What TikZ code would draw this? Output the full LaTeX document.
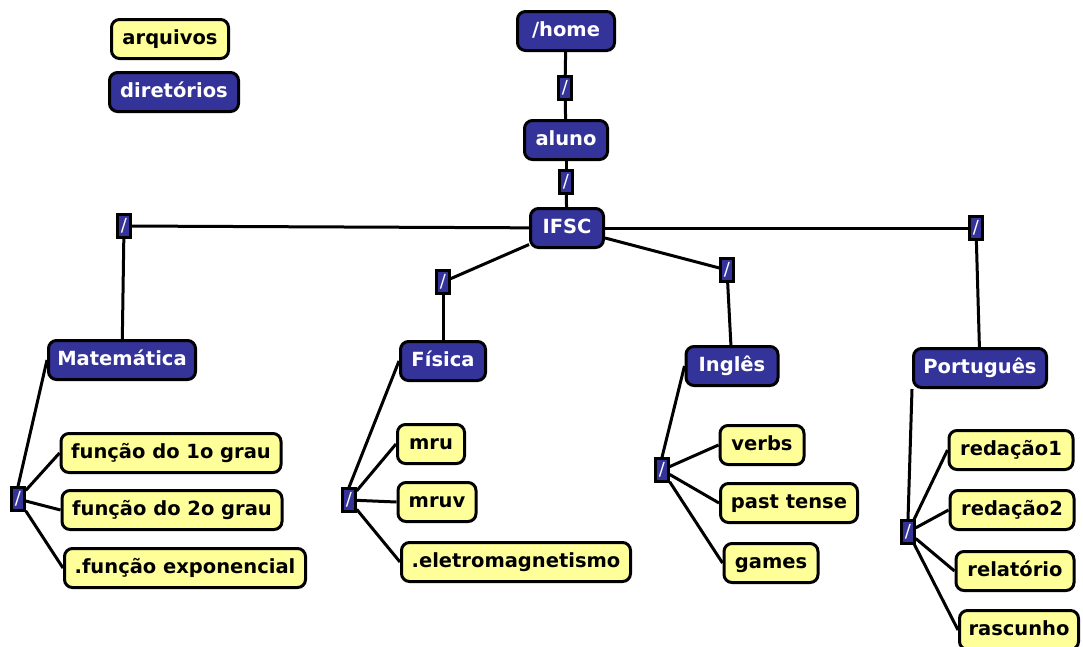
\documentclass[tikz,border=0pt]{standalone}
\usepackage{fontspec}
\setmainfont{DejaVu Sans}
\definecolor{dirblue}{HTML}{333399}
\definecolor{fileyel}{HTML}{FFFF99}
\begin{document}
\begin{tikzpicture}[x=1pt,y=-1pt,
  box/.style={draw=black, line width=3pt, rounded corners=8pt, minimum height=39pt,
    inner xsep=4pt, inner ysep=0pt, text height=14.5pt, text depth=4.5pt,
    font=\fontsize{19.5}{23}\selectfont\bfseries},
  dirbox/.style={box, fill=dirblue, text=white},
  filebox/.style={box, fill=fileyel, text=black},
  sep/.style={draw=black, line width=2.4pt, fill=dirblue, text=white,
    minimum width=13pt, minimum height=23pt, inner sep=0pt,
    font=\fontsize{18}{18}\selectfont},
  link/.style={line width=3pt, draw=black}]
\fill[white] (0,0) rectangle (1083,646);
\useasboundingbox (0,0) rectangle (1083,646);

% legend
\node[filebox, minimum width=117pt] (arq) at (170,39) {arquivos};
\node[dirbox, minimum width=129pt] (dir) at (174,92) {diretórios};

% trunk
\node[dirbox, minimum width=97pt] (home) at (566,31) {/home};
\node[sep] (s1) at (565,88) {/};
\node[dirbox, minimum width=83pt] (aluno) at (566,140) {aluno};
\node[sep] (s2) at (566,182) {/};
\node[dirbox, minimum width=73pt] (ifsc) at (567,228) {IFSC};

% second level separators
\node[sep] (smat) at (124,226) {/};
\node[sep] (sport) at (976,228) {/};
\node[sep] (sfis) at (443,282) {/};
\node[sep] (sing) at (727,270) {/};

% subject directories
\node[dirbox, minimum width=147pt] (mat) at (122,360) {Matemática};
\node[dirbox, minimum width=85pt] (fis) at (443,361) {Física};
\node[dirbox, minimum width=92pt] (ing) at (732,366) {Inglês};
\node[dirbox, minimum width=133pt] (port) at (980,368) {Português};

% third level separators
\node[sep] (smat2) at (18,499) {/};
\node[sep] (sfis2) at (349,500) {/};
\node[sep] (sing2) at (662,470) {/};
\node[sep] (sport2) at (908,532) {/};

% files
\node[filebox, minimum width=220pt] (f1) at (171,453) {função do 1o grau};
\node[filebox, minimum width=220pt] (f2) at (172,510) {função do 2o grau};
\node[filebox, minimum width=241pt] (fexp) at (185,568) {.função exponencial};

\node[filebox, minimum width=67pt] (mru) at (431,444) {mru};
\node[filebox, minimum width=78pt] (mruv) at (437,502) {mruv};
\node[filebox, minimum width=229pt] (eletro) at (516,562) {.eletromagnetismo};

\node[filebox, minimum width=84pt] (verbs) at (762,445) {verbs};
\node[filebox, minimum width=137pt] (past) at (789,503) {past tense};
\node[filebox, minimum width=94pt] (games) at (771,563) {games};

\node[filebox, minimum width=124pt] (r1) at (1011,450) {redação1};
\node[filebox, minimum width=124pt] (r2) at (1012,510) {redação2};
\node[filebox, minimum width=118pt] (rel) at (1015,571) {relatório};
\node[filebox, minimum width=119pt] (rasc) at (1019,630) {rascunho};

% connectors
\draw[link] (home) -- (s1);
\draw[link] (s1) -- (aluno);
\draw[link] (aluno) -- (s2);
\draw[link] (s2) -- (ifsc);
\draw[link] (ifsc) -- (smat);
\draw[link] (ifsc) -- (sport);
\draw[link] (ifsc) -- (sfis);
\draw[link] (ifsc) -- (sing);
\draw[link] (smat) -- (mat);
\draw[link] (sport) -- (port);
\draw[link] (sfis) -- (fis);
\draw[link] (sing) -- (ing);

\draw[link] (mat.west) -- (smat2.north);
\draw[link] (fis.west) -- (sfis2.north);
\draw[link] (ing.west) -- (sing2.north);
\draw[link] (port.south west) -- (sport2.north);

\draw[link] (smat2) -- (f1.west);
\draw[link] (smat2) -- (f2.west);
\draw[link] (smat2) -- (fexp.west);
\draw[link] (sfis2) -- (mru.west);
\draw[link] (sfis2) -- (mruv.west);
\draw[link] (sfis2) -- (eletro.west);
\draw[link] (sing2) -- (verbs.west);
\draw[link] (sing2) -- (past.west);
\draw[link] (sing2) -- (games.west);
\draw[link] (sport2) -- (r1.west);
\draw[link] (sport2) -- (r2.west);
\draw[link] (sport2) -- (rel.west);
\draw[link] (sport2) -- (rasc.west);
\end{tikzpicture}
\end{document}
